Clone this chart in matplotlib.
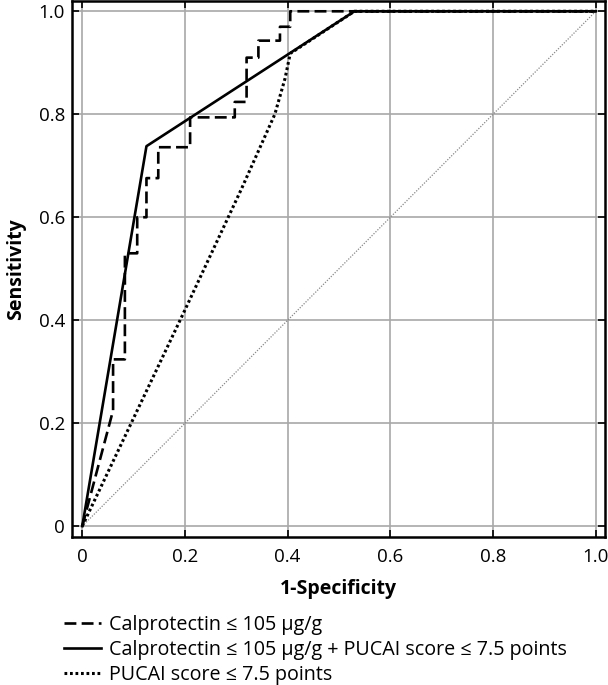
import matplotlib
matplotlib.use("Agg")
import matplotlib.pyplot as plt

# Data
calpro_fpr = [0, 0.06, 0.06, 0.083, 0.083, 0.107, 0.107, 0.125, 0.125, 0.148, 0.148,
              0.21, 0.21, 0.297, 0.297, 0.32, 0.32, 0.343, 0.343, 0.385, 0.385,
              0.405, 0.405, 1.0]
calpro_tpr = [0, 0.225, 0.324, 0.324, 0.53, 0.53, 0.60, 0.60, 0.676, 0.676, 0.736,
              0.736, 0.794, 0.794, 0.824, 0.824, 0.91, 0.91, 0.943, 0.943, 0.97,
              0.97, 1.0, 1.0]

combo_fpr = [0, 0.125, 0.53, 1.0]
combo_tpr = [0, 0.738, 1.0, 1.0]

pucai_fpr = [0, 0.2, 0.31, 0.375, 0.395, 0.405, 0.53, 1.0]
pucai_tpr = [0, 0.42, 0.655, 0.80, 0.87, 0.918, 1.0, 1.0]

ticks = [0, 0.2, 0.4, 0.6, 0.8, 1.0]
tick_labels = ["0", "0.2", "0.4", "0.6", "0.8", "1.0"]
labels = ["Calprotectin \u2264 105 \u03bcg/g",
          "Calprotectin \u2264 105 \u03bcg/g + PUCAI score \u2264 7.5 points",
          "PUCAI score \u2264 7.5 points"]

plt.rcParams['font.family'] = ['Open Sans', 'DejaVu Sans']

fig = plt.figure(figsize=(6.08, 6.85), dpi=100)
ax = fig.add_axes([72/608, 1 - 537/685, (605-72)/608, (537-1)/685])

ax.set_xlim(-0.02, 1.018)
ax.set_ylim(-0.021, 1.02)
ax.set_xticks(ticks)
ax.set_yticks(ticks)
ax.set_xticklabels(tick_labels, fontsize=13.5)
ax.set_yticklabels(tick_labels, fontsize=13.5)
ax.grid(True, color='#a8a8a8', lw=1.2)
ax.set_axisbelow(True)
ax.tick_params(direction='in', length=5, width=1.2, top=True, right=True,
               labeltop=False, labelright=False, pad=5)
ax.tick_params(axis='x', pad=8)
for s in ax.spines.values():
    s.set_linewidth(1.8)

ax.plot([0, 1], [0, 1], color='#888888', lw=0.9, linestyle=(0, (1, 1.2)), zorder=2)
l1, = ax.plot(calpro_fpr, calpro_tpr, color='black', lw=1.9, linestyle=(0, (4.5, 2)), zorder=3)
l2, = ax.plot(combo_fpr, combo_tpr, color='black', lw=1.9, linestyle='-', zorder=4)
l3, = ax.plot(pucai_fpr, pucai_tpr, color='black', lw=2.2, linestyle=(0, (0.9, 0.9)), zorder=3)

ax.set_xlabel("1-Specificity", fontsize=14, fontweight='bold', labelpad=9)
ax.set_ylabel("Sensitivity", fontsize=14, fontweight='bold', labelpad=9)

leg = fig.legend([l1, l2, l3], labels, loc='upper left', bbox_to_anchor=(64/608, 1 - 615/685),
                 frameon=False, fontsize=14.2, handlelength=1.9, handletextpad=0.4,
                 labelspacing=0.25, borderaxespad=0, borderpad=0)

fig.savefig("out.png", dpi=100)
